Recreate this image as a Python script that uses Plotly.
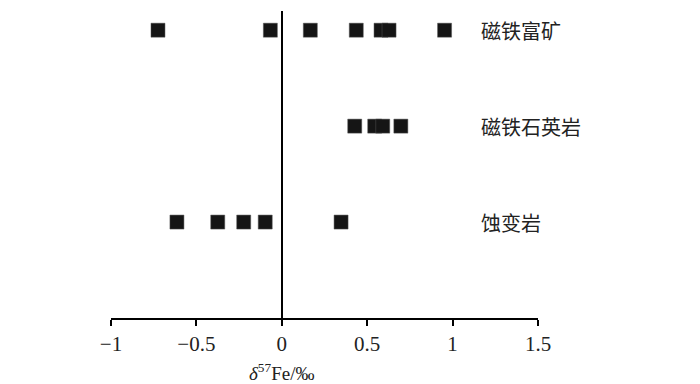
import plotly.graph_objects as go

# Data
categories = ["蚀变岩", "磁铁石英岩", "磁铁富矿"]
cat_levels = [1, 2, 3]
fe_rich = [-0.725, -0.067, 0.167, 0.436, 0.581, 0.628, 0.953]
fe_quartzite = [0.427, 0.544, 0.591, 0.697]
altered = [-0.614, -0.375, -0.223, -0.097, 0.347]
x_ticks = [-1, -0.5, 0, 0.5, 1, 1.5]
x_tick_labels = ["−1", "−0.5", "0", "0.5", "1", "1.5"]

series = [altered, fe_quartzite, fe_rich]

fig = go.Figure()
for lvl, vals in zip(cat_levels, series):
    fig.add_trace(go.Scatter(
        x=vals, y=[lvl] * len(vals), mode="markers",
        marker=dict(symbol="square", size=14, color="#151515",
                    line=dict(color="#555555", width=0.5)),
        showlegend=False, hoverinfo="x"))

for lvl, name in zip(cat_levels, categories):
    fig.add_annotation(x=1.152, y=lvl, xref="x", yref="y", text=name,
                       showarrow=False, xanchor="left", yanchor="middle",
                       font=dict(family="Noto Sans CJK SC", size=20, color="#222"))

fig.add_annotation(x=0, y=-0.176, xref="x", yref="paper",
                   text="<i>δ</i><sup>57</sup>Fe/‰", showarrow=False,
                   xanchor="center", yanchor="middle",
                   font=dict(family="Liberation Serif", size=19, color="#222"))

fig.update_layout(
    width=692, height=376,
    margin=dict(l=103, r=162, t=3, b=66),
    plot_bgcolor="white", paper_bgcolor="white",
    xaxis=dict(range=[-1, 1.5], tickvals=x_ticks, ticktext=x_tick_labels,
               showline=True, linecolor="black", linewidth=2,
               ticks="outside", ticklen=6, tickwidth=2, tickcolor="black",
               showgrid=False, zeroline=False,
               tickfont=dict(family="Liberation Serif", size=21, color="#222")),
    yaxis=dict(range=[0, 3.2], showline=True, linecolor="black", linewidth=2,
               anchor="free", position=0.4, showticklabels=False, ticks="",
               showgrid=False, zeroline=False),
)

fig.write_html("out.html")
